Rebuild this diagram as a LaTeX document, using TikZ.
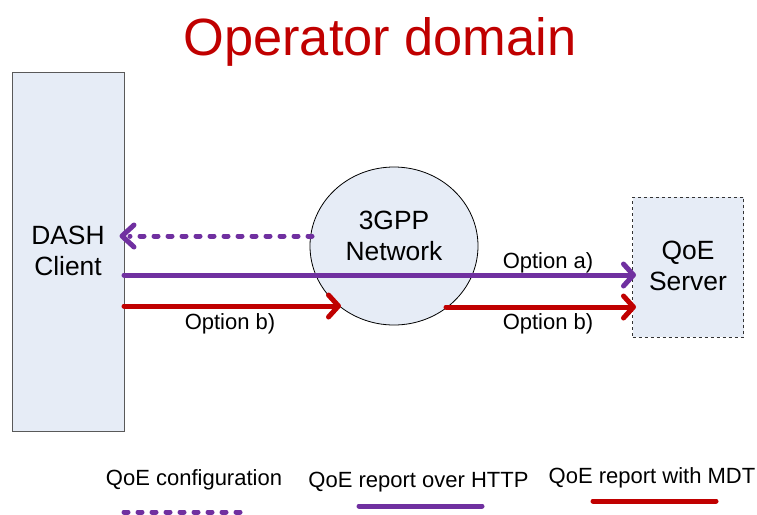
\documentclass[tikz,border=0pt]{standalone}
\usepackage{fontspec}
\setmainfont{Liberation Sans}
\usetikzlibrary{arrows.meta,shapes.geometric}
\definecolor{boxfill}{RGB}{230,236,246}
\definecolor{flowpurple}{RGB}{112,48,160}
\definecolor{flowred}{RGB}{192,0,0}
\tikzset{
  x=1pt,y=-1pt,
  blockbox/.style={fill=boxfill,inner sep=0pt,outer sep=0pt,align=center},
  blocktext/.style={inner sep=0pt,align=center,font=\fontsize{26.4}{31}\selectfont},
  lbl/.style={inner sep=0pt,font=\fontsize{22}{26}\selectfont},
  flow/.style={line width=5pt,line cap=round,-{Straight Barb[length=10pt,width=22pt,round]}},
  plainflow/.style={line width=5pt,line cap=round},
  dashflow/.style={line width=5pt,line cap=round,dash pattern=on 4pt off 10pt},
}
\begin{document}
\begin{tikzpicture}
\useasboundingbox (0,0) rectangle (757,514);
\node[inner sep=0pt,text=flowred,font=\fontsize{52.4}{60}\selectfont] (title) at (380,42) {Operator domain};
\node[blockbox,draw=black!65,line width=1pt,minimum width=112,minimum height=359] (client) at (68.5,252) {};
\node[blocktext] (clientl) at (68,251) {DASH\\Client};
\node[blockbox,draw=black,line width=0.8pt,ellipse,minimum width=168,minimum height=158] (net) at (394,246) {};
\node[blocktext] (netl) at (394,236) {3GPP\\Network};
\node[blockbox,draw=black!80,line width=0.8pt,dashed,minimum width=111,minimum height=140] (server) at (688,267) {};
\node[blocktext] (serverl) at (688,266) {QoE\\Server};
\coordinate (d1) at (312,236);
\coordinate (d0) at (130,236);
\coordinate (d2) at (122,236);
\coordinate (dt) at (134,225);
\coordinate (db) at (134,247);
\coordinate (a1) at (124,275);
\coordinate (a2) at (636,275);
\coordinate (b1) at (124,306);
\coordinate (b2) at (341,306);
\coordinate (c1) at (446,307);
\coordinate (c2) at (636,307);
\draw[dashflow,flowpurple] (d1) -- (d0);
\draw[plainflow,line join=round,flowpurple] (dt) -- (d2) -- (db);
\draw[flow,flowpurple] (a1) -- (a2);
\draw[flow,flowred] (b1) -- (b2);
\draw[flow,flowred] (c1) -- (c2);
\node[lbl] (oa) at (548,263) {Option a)};
\node[lbl] (ob1) at (230,324) {Option b)};
\node[lbl] (ob2) at (548,324) {Option b)};
\node[lbl] (l1) at (194,480) {QoE configuration};
\node[lbl] (l2) at (418.5,482) {QoE report over HTTP};
\node[lbl] (l3) at (652,478) {QoE report with MDT};
\coordinate (p1) at (124,512);
\coordinate (p2) at (244,512);
\coordinate (q1) at (359,506);
\coordinate (q2) at (482,506);
\coordinate (r1) at (593,501);
\coordinate (r2) at (716,501);
\draw[dashflow,flowpurple] (p1) -- (p2);
\draw[plainflow,flowpurple] (q1) -- (q2);
\draw[plainflow,flowred] (r1) -- (r2);
\end{tikzpicture}
\end{document}
